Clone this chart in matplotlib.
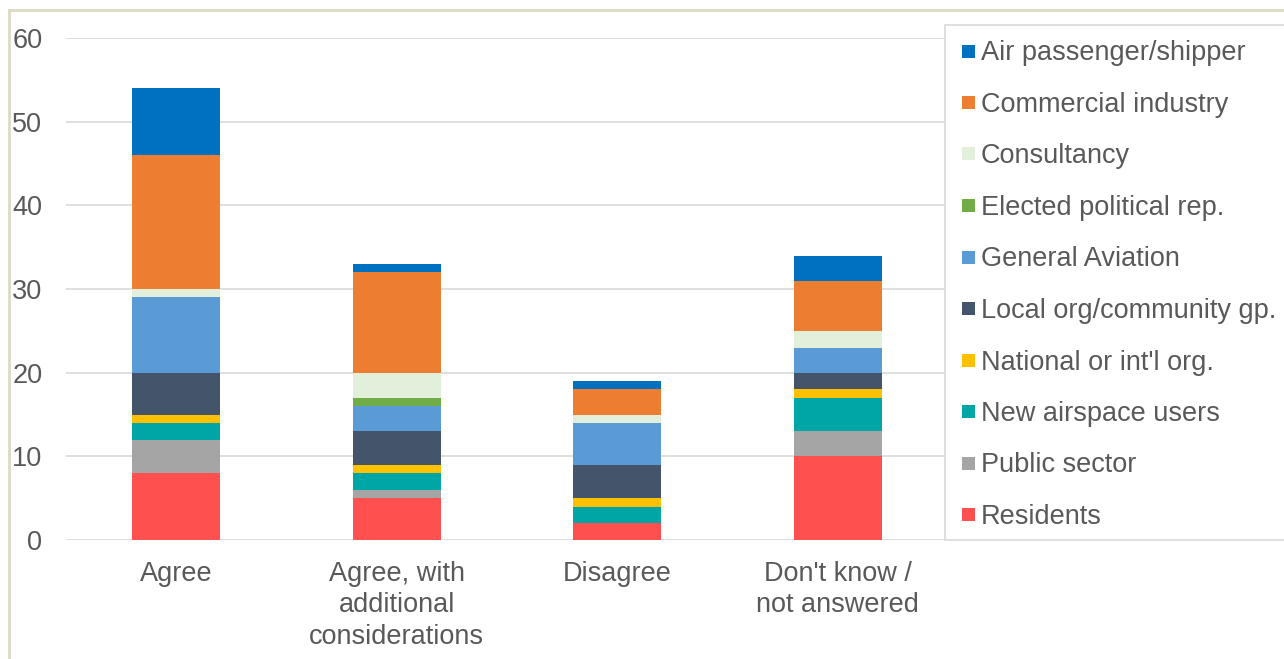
import matplotlib
matplotlib.use("Agg")
import matplotlib.pyplot as plt
from matplotlib.patches import Rectangle
from matplotlib.lines import Line2D
import numpy as np

plt.rcParams['font.family'] = ['Liberation Sans', 'DejaVu Sans']

categories = ["Agree", "Agree, with\nadditional\nconsiderations", "Disagree", "Don't know /\nnot answered"]

# series listed bottom-to-top in the stack
series_names = ["Residents", "Public sector", "New airspace users", "National or int'l org.",
                "Local org/community gp.", "General Aviation", "Elected political rep.",
                "Consultancy", "Commercial industry", "Air passenger/shipper"]
residents = [8, 5, 2, 10]
public_sector = [4, 1, 0, 3]
new_airspace = [2, 2, 2, 4]
national_org = [1, 1, 1, 1]
local_org = [5, 4, 4, 2]
general_aviation = [9, 3, 5, 3]
elected_rep = [0, 1, 0, 0]
consultancy = [1, 3, 1, 2]
commercial = [16, 12, 3, 6]
air_passenger = [8, 1, 1, 3]
series_values = [residents, public_sector, new_airspace, national_org, local_org,
                 general_aviation, elected_rep, consultancy, commercial, air_passenger]
colors = ["#FF5050", "#A5A5A5", "#00A5A5", "#FFC000", "#44546A",
          "#5B9BD5", "#70AD47", "#E2EFDA", "#ED7D31", "#0070C0"]
yticks = [0, 10, 20, 30, 40, 50, 60]

W, H = 1284, 659
fig = plt.figure(figsize=(W / 100, H / 100), dpi=100)
ax = fig.add_axes([66 / W, (H - 540) / H, (948 - 66) / W, (540 - 38) / H])

text_color = "#595959"
fs = 19.5
x = np.arange(len(categories))
bottom = np.zeros(len(categories))
for vals, c in zip(series_values, colors):
    ax.bar(x, vals, width=0.4, bottom=bottom, color=c, edgecolor='none', zorder=3)
    bottom += np.array(vals)

ax.set_xlim(-0.5, len(categories) - 0.5)
ax.set_ylim(0, 60)
ax.set_yticks(yticks)
ax.set_xticks(x)
ax.set_xticklabels(categories, linespacing=1.27)
ax.tick_params(axis='both', length=0, labelsize=fs, labelcolor=text_color)
ax.tick_params(axis='y', pad=17)
ax.tick_params(axis='x', pad=15)
for s in ax.spines.values():
    s.set_visible(False)
ax.yaxis.grid(True, color="#D9D9D9", linewidth=1.2, zorder=0)
ax.set_axisbelow(True)

# outer chart-area border (top and left visible)
fig.add_artist(Line2D([9 / W, 1.01], [(H - 10) / H, (H - 10) / H], color="#DDD9C3", lw=2, transform=fig.transFigure))
fig.add_artist(Line2D([9 / W, 9 / W], [-0.01, (H - 10) / H], color="#DDD9C3", lw=2, transform=fig.transFigure))

# legend box (top-to-bottom order = reverse stack)
lx0, ly_top, ly_bot = 945, 25, 540
fig.add_artist(Rectangle((lx0 / W, (H - ly_bot) / H), (W + 10 - lx0) / W, (ly_bot - ly_top) / H,
                         transform=fig.transFigure, facecolor='white', edgecolor="#D9D9D9", lw=1.2, zorder=5))
for i, (name, c) in enumerate(zip(series_names[::-1], colors[::-1])):
    yc = 51 + 51.5 * i
    fig.add_artist(Rectangle((962 / W, (H - yc - 6.5) / H), 13 / W, 13 / H, transform=fig.transFigure,
                             facecolor=c, edgecolor='none', zorder=6))
    fig.text(981 / W, (H - yc - 9.5) / H, name, fontsize=fs, color=text_color, va='baseline', ha='left', zorder=7)

fig.savefig("out.png", dpi=100)
